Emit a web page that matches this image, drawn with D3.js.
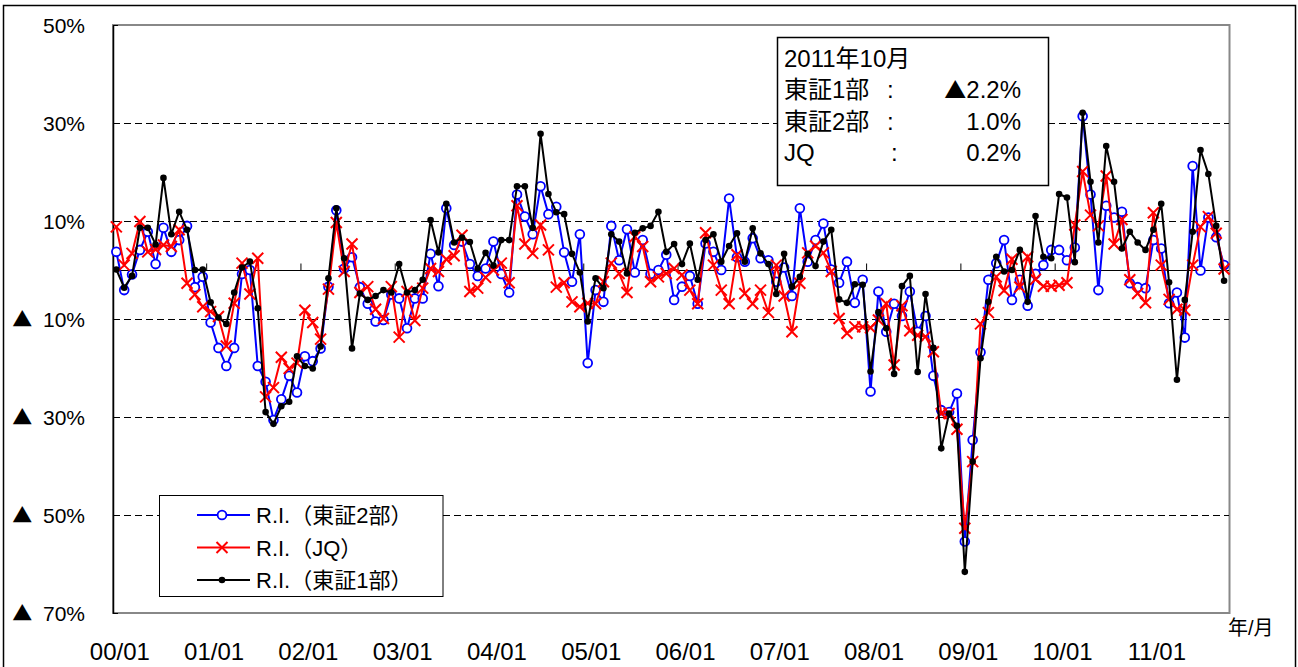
<!DOCTYPE html>
<html><head><meta charset="utf-8">
<script src="https://cdn.jsdelivr.net/npm/d3@7"></script>
<style>
body{margin:0;background:#fff}
svg{display:block}
text{font-family:"Liberation Sans","Noto Sans CJK JP",sans-serif;fill:#000}
.cjk{font-family:"Noto Sans CJK JP",sans-serif}
</style>
</head><body>
<svg id="c" width="1298" height="667"></svg>
<script>
// ---- data ----
const xTickLabels = ["00/01","01/01","02/01","03/01","04/01","05/01","06/01","07/01","08/01","09/01","10/01","11/01"];
const yTicks = [-70,-50,-30,-10,10,30,50];
const gridValues = [30,10,-10,-30,-50];
const months = [];
for (let yy = 0; yy < 12; yy++) for (let mm = 1; mm <= 12; mm++) {
  if (yy === 11 && mm > 10) break;
  months.push(String(yy).padStart(2,"0") + "/" + String(mm).padStart(2,"0"));
}
// 東証2部 (blue)
const tse2 = [3.7,-4.1,-0.9,4.1,7.8,1.2,8.6,3.7,6.1,9.0,-3.5,-1.4,
-10.7,-15.9,-19.6,-15.9,-0.8,0.0,-19.6,-22.8,-30.6,-26.4,-21.6,-25.0,
-17.6,-18.6,-16.0,-3.4,12.2,0.3,2.6,-3.5,-6.9,-10.5,-10.2,-5.0,
-5.8,-11.9,-5.8,-5.8,3.3,-3.3,12.6,5.1,5.8,1.2,-1.2,0.3,
5.8,-0.8,-4.6,15.4,10.9,7.3,17.1,11.4,12.9,3.6,-2.4,7.3,
-19.0,-4.1,-6.5,9.0,2.0,8.3,-0.5,6.1,-0.8,0.0,3.1,-6.1,
-3.4,-1.2,-6.9,5.4,3.7,0.0,14.6,2.6,1.7,6.5,2.4,2.0,
-2.4,0.5,-5.3,12.6,1.7,6.1,9.5,0.1,-2.6,1.7,-6.7,-2.0,
-24.8,-4.4,-12.6,-6.9,-9.4,-4.4,-12.6,-9.4,-21.6,-28.6,-29.0,-25.2,
-55.4,-34.7,-16.8,-2.0,1.4,6.1,-6.1,-2.0,-7.3,-0.8,1.0,4.1,
4.1,2.0,4.6,31.4,15.4,-4.1,13.1,10.7,11.9,-2.7,-3.5,-3.7,
6.1,4.4,-6.8,-4.6,-13.8,21.2,-0.1,10.7,6.7,1.0];
// JQ (red)
const jq = [8.8,1.0,3.4,9.9,3.7,4.2,5.1,4.8,8.2,-2.7,-5.0,-7.5,
-8.5,-9.5,-15.5,-6.8,1.4,-4.9,2.4,-25.9,-24.0,-17.8,-20.1,-19.0,
-8.2,-10.7,-14.1,-3.9,9.7,-0.3,5.3,-4.6,-3.4,-8.0,-9.9,-3.4,
-13.7,-4.4,-10.3,-3.7,0.3,-0.3,2.2,2.9,7.1,-4.4,-3.7,-1.5,
0.0,1.4,-2.6,13.1,5.3,3.4,9.2,4.1,-3.5,-2.6,-6.5,-7.5,
-6.8,-6.9,-2.4,1.4,-0.7,-4.6,6.8,4.8,-2.4,-1.4,-0.7,0.3,
-1.0,-4.1,-6.9,7.6,1.0,-4.1,-6.9,3.1,-4.8,-6.9,-4.1,-8.7,
1.0,-5.3,-12.6,-2.7,3.5,4.9,3.5,-0.3,-9.9,-12.9,-11.6,-11.6,
-11.8,-10.2,-6.9,-19.4,-7.3,-12.4,-13.3,-13.6,-16.7,-29.3,-29.3,-32.5,
-52.7,-39.1,-11.0,-8.7,-1.4,-4.2,2.2,-3.5,2.7,-1.9,-3.3,-3.3,
-3.1,-2.6,9.2,20.1,11.2,9.0,19.2,5.3,10.3,-2.0,-4.8,-6.7,
11.7,1.0,-6.0,-8.0,-8.2,1.0,8.8,10.9,7.5,0.2];
// 東証1部 (black)
const tse1 = [0.1,-3.6,-1.2,8.6,8.6,5.2,18.8,7.3,11.9,8.2,0.0,0.1,
-6.6,-9.7,-11.0,-4.6,0.5,1.7,-7.8,-29.0,-31.4,-27.8,-26.9,-17.6,
-19.6,-20.1,-15.6,-1.7,12.6,2.4,-16.0,-4.8,-6.1,-5.3,-4.1,-4.6,
1.2,-4.6,-4.1,-2.0,10.2,3.6,13.5,5.6,6.6,5.7,0.3,3.5,
0.9,6.1,6.1,17.1,17.1,8.6,27.8,15.5,11.8,11.4,3.3,-0.5,
-10.5,-1.7,-3.7,7.3,5.8,-0.7,7.6,8.5,9.0,11.9,3.7,5.3,
1.2,5.4,-2.0,6.1,7.3,1.7,4.9,7.5,1.7,8.5,3.4,1.2,
-4.9,3.3,-3.4,-1.4,3.3,0.8,5.8,8.2,-6.0,-6.7,-2.9,-3.0,
-20.7,-8.6,-11.9,-21.2,-3.3,-1.2,-20.8,-4.9,-15.9,-36.4,-29.3,-31.8,
-61.6,-39.1,-18.0,-6.5,2.7,-0.3,0.0,4.1,-6.5,11.0,2.7,2.4,
15.5,14.8,1.6,32.1,18.0,5.6,25.3,18.0,4.4,7.8,5.6,4.1,
8.2,13.5,-2.5,-22.4,-6.1,7.8,24.5,19.6,9.0,-2.2];
const seriesNames = ["R.I.（東証2部）","R.I.（JQ）","R.I.（東証1部）"];
const seriesColors = ["#0000FF","#FF0000","#000000"];
const seriesMarkers = ["circle","x","dot"];
const infoTitle = "2011年10月";
const infoLabels = ["東証1部","東証2部","JQ"];
const infoValues = [-2.2, 1.0, 0.2];

// ---- chart ----
const svg = d3.select("#c");
const x = d3.scaleBand().domain(months).range([112.4, 1228]);
const cx = m => x(m) + x.bandwidth() / 2;
const y = d3.scaleLinear().domain([-70, 50]).range([613, 25]);

// outer border
svg.append("rect").attr("x",3.5).attr("y",5.5).attr("width",1292).attr("height",700)
  .attr("fill","none").attr("stroke","#000").attr("stroke-width",1.5);

// plot area border
svg.append("rect").attr("x",113).attr("y",y(50)).attr("width",1229.5-113).attr("height",y(-70)-y(50))
  .attr("fill","none").attr("stroke","#888").attr("stroke-width",2);

// gridlines
svg.append("g").selectAll("line").data(gridValues).join("line")
  .attr("x1",113).attr("x2",1229).attr("y1",d=>Math.round(y(d))+0.5).attr("y2",d=>Math.round(y(d))+0.5)
  .attr("stroke","#000").attr("stroke-width",1).attr("stroke-dasharray","7,4");

// y axis
const yAxis = d3.axisLeft(y).tickValues(yTicks).tickSizeInner(-5).tickSizeOuter(0).tickPadding(28)
  .tickFormat(v => v < 0 ? "▲ " + (-v) + "%" : v + "%");
const gy = svg.append("g").attr("transform","translate(113,0)").call(yAxis);
gy.select(".domain").attr("stroke","#000").attr("stroke-width",1.5);
gy.selectAll(".tick line").attr("stroke","#000");
gy.selectAll(".tick text").attr("font-size",21).attr("font-family",null).attr("dy","0.36em")
  .each(function(d) {
    if (d < 0) {
      const t = d3.select(this);
      t.text(null);
      t.append("tspan").attr("class","cjk").attr("font-size",20).text("▲");
      t.append("tspan").attr("dx",5).text(" " + (-d) + "%");
    }
  });

// zero (category) axis line
const y0 = Math.round(y(0)) + 0.5;
svg.append("line").attr("x1",113).attr("x2",1229).attr("y1",y0).attr("y2",y0)
  .attr("stroke","#000").attr("stroke-width",1.2);
const janIdx = xTickLabels.map((_,k) => k*12);
svg.append("g").selectAll("line").data(janIdx.slice(1)).join("line")
  .attr("x1",i=>x(months[i])).attr("x2",i=>x(months[i]))
  .attr("y1",y0-7).attr("y2",y0).attr("stroke","#000").attr("stroke-width",1);

// x labels
svg.append("g").selectAll("text").data(xTickLabels).join("text")
  .attr("x",(d,k)=>cx(months[k*12]) + 3.5).attr("y",660)
  .attr("text-anchor","middle").attr("font-size",24).text(d=>d);
svg.append("text").attr("x",1228).attr("y",635).attr("font-size",20).text("年/月");

// series
const allSeries = [tse2, jq, tse1];
const line = d3.line().x((d,i)=>cx(months[i])).y(d=>y(d));
function drawMarker(g, type, color, px, py) {
  if (type === "circle") {
    g.append("circle").attr("cx",px).attr("cy",py).attr("r",4.4)
      .attr("fill","#fff").attr("stroke",color).attr("stroke-width",1.8);
  } else if (type === "x") {
    const s = 5.5;
    g.append("path").attr("d",`M${px-s},${py-s}L${px+s},${py+s}M${px-s},${py+s}L${px+s},${py-s}`)
      .attr("stroke",color).attr("stroke-width",2).attr("fill","none");
  } else {
    g.append("circle").attr("cx",px).attr("cy",py).attr("r",3.3).attr("fill",color);
  }
}
allSeries.forEach((vals, si) => {
  const g = svg.append("g");
  g.append("path").datum(vals).attr("d",line).attr("fill","none")
    .attr("stroke",seriesColors[si]).attr("stroke-width",2);
  vals.forEach((v,i) => drawMarker(g, seriesMarkers[si], seriesColors[si], cx(months[i]), y(v)));
});

// info box
const ib = svg.append("g");
ib.append("rect").attr("x",777.5).attr("y",37.5).attr("width",271).attr("height",148)
  .attr("fill","#fff").attr("stroke","#000").attr("stroke-width",1.5);
ib.append("text").attr("x",784).attr("y",67).attr("font-size",24).text(infoTitle);
infoLabels.forEach((lab,k) => {
  const by = 98 + k*31.7;
  ib.append("text").attr("x",784).attr("y",by).attr("font-size",24).text(lab);
  ib.append("text").attr("x",k===2?891:887).attr("y",by).attr("font-size",24).text(":");
  const v = infoValues[k];
  const t = ib.append("text").attr("x",1021).attr("y",by).attr("font-size",24).attr("text-anchor","end");
  if (v < 0) t.append("tspan").attr("class","cjk").attr("font-size",22).text("▲");
  t.append("tspan").text(Math.abs(v).toFixed(1) + "%");
});

// legend
const lg = svg.append("g");
lg.append("rect").attr("x",159.5).attr("y",495.5).attr("width",283.5).attr("height",101)
  .attr("fill","#fff").attr("stroke","#000").attr("stroke-width",1);
seriesNames.forEach((nm,k) => {
  const ly = 515 + k*32.5;
  lg.append("line").attr("x1",197).attr("x2",250).attr("y1",ly).attr("y2",ly)
    .attr("stroke",seriesColors[k]).attr("stroke-width",2);
  drawMarker(lg, seriesMarkers[k], seriesColors[k], 222, ly);
  lg.append("text").attr("x",256).attr("y",ly+8).attr("font-size",22).text(nm);
});
</script>
</body></html>
